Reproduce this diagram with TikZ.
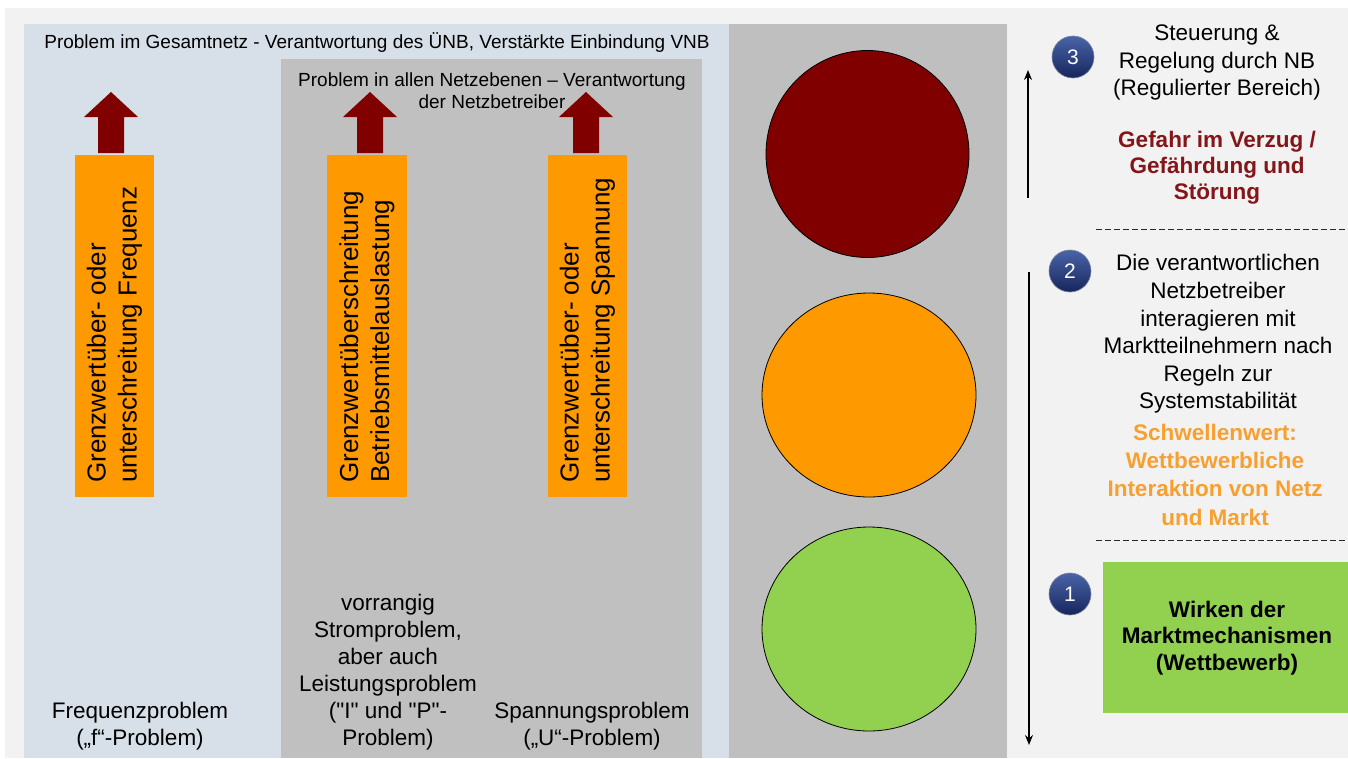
\documentclass[tikz,border=0pt]{standalone}
\usepackage{fontspec}
\setmainfont{Liberation Sans}
\newfontfamily\rawq{Liberation Sans}
\usetikzlibrary{arrows.meta}
\definecolor{bgl}{HTML}{F2F2F2}
\definecolor{panelblue}{HTML}{D7DFE8}
\definecolor{panelgrey}{HTML}{C0C0C0}
\definecolor{housing}{HTML}{BFBFBF}
\definecolor{lred}{HTML}{800000}
\definecolor{lorange}{HTML}{FF9900}
\definecolor{lgreen}{HTML}{92D050}
\definecolor{txtred}{HTML}{841518}
\definecolor{txtorange}{HTML}{F7A030}
\definecolor{badgetop}{HTML}{4A64A8}
\definecolor{badgebot}{HTML}{16265C}
\newcommand{\sq}{{\rawq "}}
\begin{document}
\begin{tikzpicture}[x=1pt,y=-1pt,
  lbl/.style={inner sep=0pt, align=center, font=\fontsize{22.5}{27.5}\selectfont},
  vlbl/.style={inner sep=0pt, align=left, rotate=90, anchor=west, font=\fontsize{26}{31}\selectfont},
  obox/.style={fill=lorange, draw=none},
  barrow/.style={fill=lred, draw=none},
  badge/.style={circle, minimum size=42pt, inner sep=0pt, top color=badgetop, bottom color=badgebot, draw={rgb,255:red,120;green,130;blue,160}, line width=0.6pt, text=white, font=\fontsize{21}{24}\selectfont},
  light/.style={draw=black, line width=0.8pt},
  thinarrow/.style={line width=1.3pt, -{Stealth[length=10pt,width=8pt]}},
  sep/.style={draw={rgb,255:red,40;green,40;blue,40}, line width=1pt, dash pattern=on 6pt off 3pt}
]
\useasboundingbox (0,0) rectangle (1348,758);
\fill[white] (0,0) rectangle (1348,758);
\fill[bgl] (5,8) rectangle (1348,758);
% panels
\fill[panelblue] (24,24) rectangle (729,758);
\fill[panelgrey] (281,59) rectangle (702,758);
\fill[housing] (729,24) rectangle (1007,758);

% titles
\node[inner sep=0pt, font=\fontsize{19}{22}\selectfont] (t1) at (377,43) {Problem im Gesamtnetz - Verantwortung des ÜNB, Verstärkte Einbindung VNB};
\node[inner sep=0pt, align=center, font=\fontsize{19}{22}\selectfont] (t2) at (492,91) {Problem in allen Netzebenen – Verantwortung\\der Netzbetreiber};

% block arrows
\foreach \cx/\nm in {111/a1,370/a2,586/a3}{
  \fill[barrow] (\cx,92) -- (\cx+27,117) -- (\cx+13,117) -- (\cx+13,153) -- (\cx-13,153) -- (\cx-13,117) -- (\cx-27,117) -- cycle;
}
% orange boxes
\fill[obox] (75,155) rectangle (154,497);
\fill[obox] (327,155) rectangle (407,497);
\fill[obox] (548,155) rectangle (627,497);
\node[vlbl] (v1) at (114.5,483) {Grenzwertüber- oder\\unterschreitung Frequenz};
\node[vlbl] (v2) at (367,483) {Grenzwertüberschreitung\\Betriebsmittelauslastung};
\node[vlbl] (v3) at (587.5,483) {Grenzwertüber- oder\\unterschreitung Spannung};

% bottom labels
\node[lbl, font=\fontsize{22.5}{27}\selectfont] (b1) at (140,726.5) {Frequenzproblem\\(„f“-Problem)};
\node[lbl, font=\fontsize{22.5}{27}\selectfont] (b2) at (388,672.5) {vorrangig\\Stromproblem,\\aber auch\\Leistungsproblem\\(\sq I\sq{} und \sq P\sq-\\Problem)};
\node[lbl, font=\fontsize{22.5}{27}\selectfont] (b3) at (592,726.5) {Spannungsproblem\\(„U“-Problem)};

% traffic light
\draw[light, fill=lred] (867.5,154) ellipse [x radius=101.5, y radius=103.5];
\draw[light, fill=lorange] (869,395) ellipse [x radius=107, y radius=102];
\draw[light, fill=lgreen] (869,629) ellipse [x radius=107, y radius=102];

% right side
\coordinate (upS) at (1028,198);
\coordinate (upE) at (1028,70);
\coordinate (dnS) at (1029,272);
\coordinate (dnE) at (1029,745);
\draw[thinarrow] (upS) -- (upE);
\draw[thinarrow] (dnS) -- (dnE);

\node[badge] (n3) at (1073,57) {3};
\node[badge] (n2) at (1070,271) {2};
\node[badge] (n1) at (1070,594) {1};

\node[lbl] (r3) at (1217,62.5) {Steuerung \&\\Regelung durch NB\\(Regulierter Bereich)};
\node[lbl, font=\bfseries\fontsize{22.5}{26}\selectfont, text=txtred] (r3b) at (1217,168) {Gefahr im Verzug /\\Gefährdung und\\Störung};
\coordinate (d1a) at (1096,229);
\coordinate (d1b) at (1348,229);
\draw[sep] (d1a) -- (d1b);
\node[lbl, font=\fontsize{22.5}{27.6}\selectfont] (r2) at (1218,334) {Die verantwortlichen\\Netzbetreiber\\interagieren mit\\Marktteilnehmern nach\\Regeln zur\\Systemstabilität};
\node[lbl, font=\bfseries\fontsize{22.5}{28.3}\selectfont, text=txtorange] (r2b) at (1215,474.5) {Schwellenwert:\\Wettbewerbliche\\Interaktion von Netz\\und Markt};
\coordinate (d2a) at (1096,540);
\coordinate (d2b) at (1348,540);
\draw[sep] (d2a) -- (d2b);
\fill[lgreen] (1103,562) rectangle (1348,713);
\node[lbl, font=\bfseries\fontsize{22.5}{26.5}\selectfont] (r1) at (1227,638) {Wirken der\\Marktmechanismen\\(Wettbewerb)};
\end{tikzpicture}
\end{document}
